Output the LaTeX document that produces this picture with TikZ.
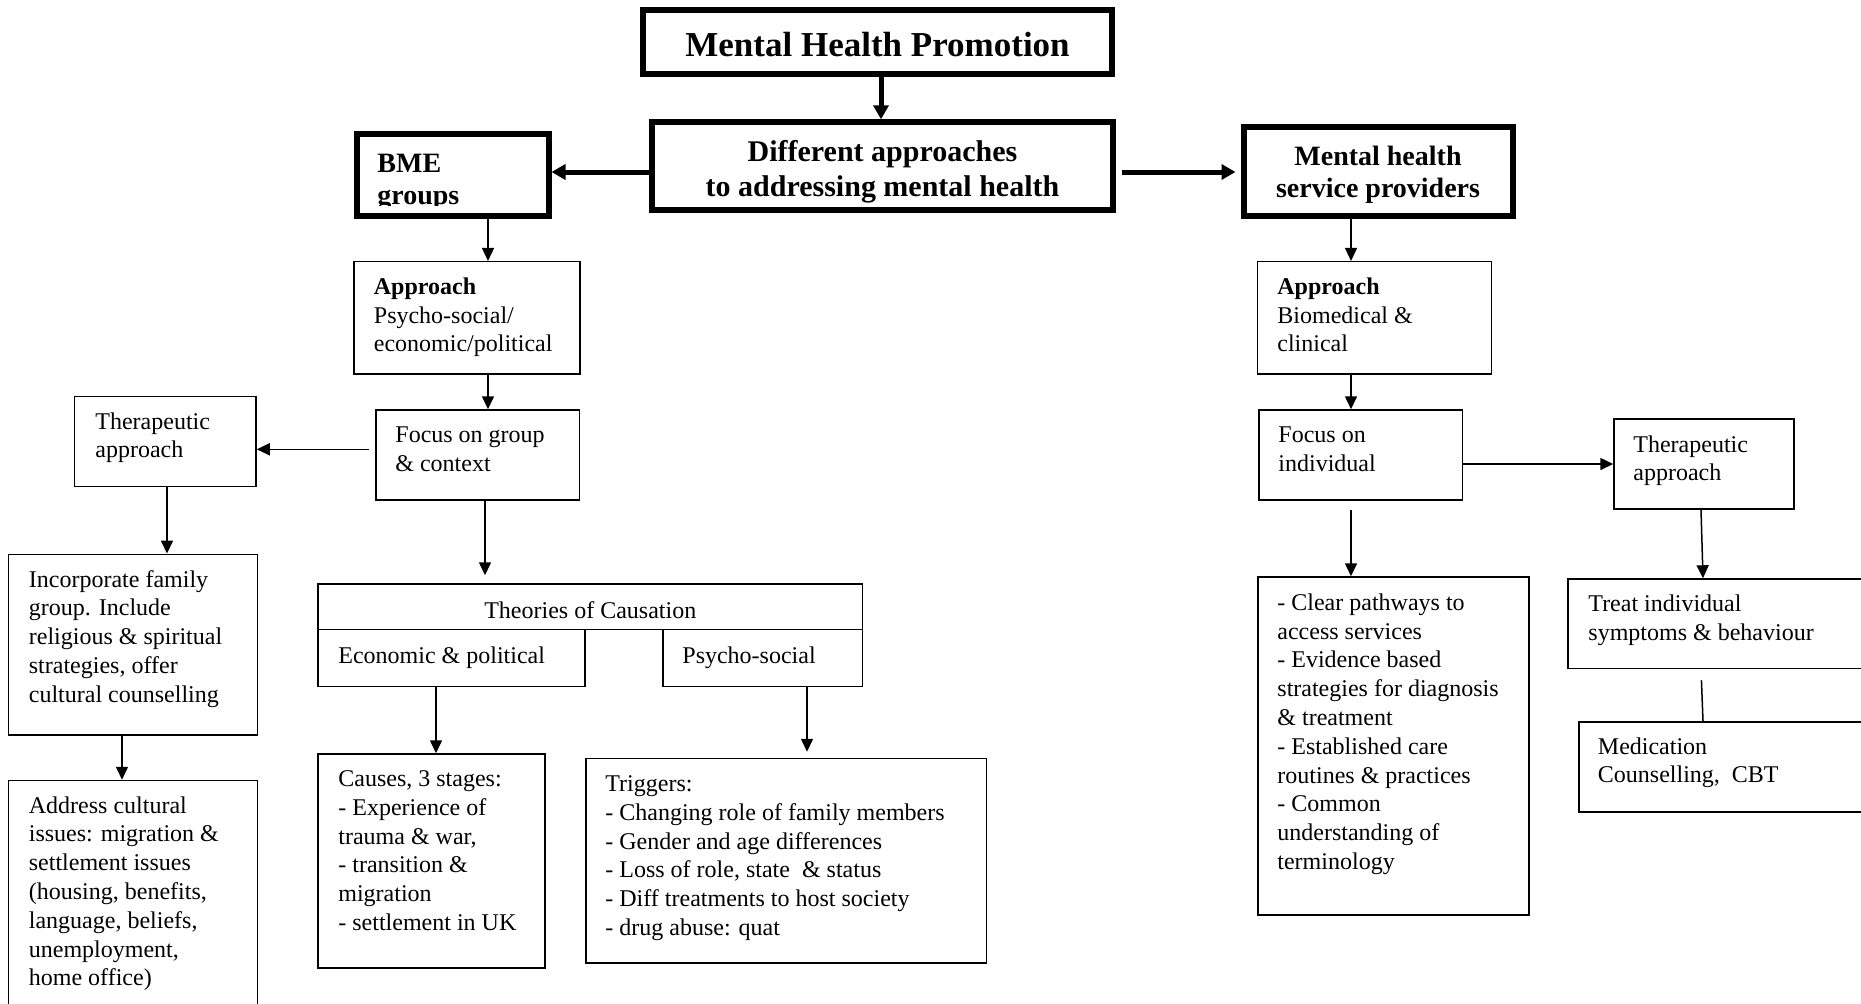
\documentclass[tikz,border=0pt]{standalone}
\usepackage{fontspec}
\setmainfont{Liberation Serif}
\usetikzlibrary{arrows.meta,fit}
\tikzset{
  thin box/.style={draw, line width=0.75pt, inner sep=0pt, fit={#1}},
  thick box/.style={draw, line width=3pt, inner sep=0pt, fit={#1}},
  arr/.style={line width=0.75pt, -{Triangle[length=6.5pt,width=6pt]}},
  tarr/.style={line width=2.5pt, -{Triangle[length=7pt,width=7.5pt]}},
  txt/.style={inner sep=0pt, align=left, anchor=north west, font=\fontsize{12}{14.4}\selectfont},
  ctxt/.style={inner sep=0pt, align=center, anchor=north, font=\fontsize{12}{14.4}\selectfont},
}
\begin{document}
\begin{tikzpicture}[x=0.5pt, y=-0.5pt]
\useasboundingbox (0,0) rectangle (1861,1003);
\clip (0,0) rectangle (1861,1003);

% ---------- boxes ----------
\node[thick box={(643,10.3)(1112,74.3)}] (mhp) {};
\node[thick box={(652,122.3)(1113,210)}] (diff) {};
\node[thick box={(357,133.5)(548.5,215.6)}] (bme) {};
\node[thick box={(1243.5,126.5)(1513,215.8)}] (mhsp) {};

\node[thin box={(354,261.7)(580,374)}] (appL) {};
\node[thin box={(376,410)(579.3,500)}] (focG) {};
\node[thin box={(74.7,396.7)(256,486.7)}] (therL) {};
\node[thin box={(8.4,554.3)(257.5,735)}] (inc) {};
\node[thin box={(8.4,780.5)(257.5,1040)}] (addr) {};
\node[thin box={(318,584)(862.5,629.3)}] (theo) {};
\node[thin box={(318,629.3)(585,686.5)}] (econ) {};
\node[thin box={(663,629.3)(862.5,686.5)}] (psy) {};
\node[thin box={(318,754)(545,968)}] (causes) {};
\node[thin box={(586,758.5)(986.5,963)}] (trig) {};

\node[thin box={(1257.4,261.7)(1491.7,374)}] (appR) {};
\node[thin box={(1259,410)(1462.6,500)}] (focI) {};
\node[thin box={(1614,419)(1794,509)}] (therR) {};
\node[thin box={(1568,579)(1890,668.5)}] (treat) {};
\node[thin box={(1579,722)(1890,812)}] (med) {};
\node[thin box={(1258,577)(1529,915)}] (clear) {};

% ---------- texts ----------
\node[ctxt, font=\fontsize{17.5}{21}\selectfont\bfseries] (tmhp) at (877.5,27) {\strut Mental Health Promotion};
\node[ctxt, font=\fontsize{15}{17.25}\selectfont\bfseries] (tdiff) at (882.5,137.3) {\strut Different approaches\\to addressing mental health};
\begin{scope}
  \clip (362,140) rectangle (544,205);
  \node[txt, font=\fontsize{14}{16}\selectfont\bfseries] (tbme) at (377,149.6) {\strut BME\\groups};
\end{scope}
\node[ctxt, font=\fontsize{14}{16}\selectfont\bfseries] (tmhsp) at (1378,143) {\strut Mental health\\service providers};

\node[txt] (tappL) at (373.5,273.8) {\strut\textbf{Approach}\\Psycho-social/\\economic/political};
\node[txt] (tfocG) at (395,421.8) {\strut Focus on group\\\& context};
\node[txt] (ttherL) at (95,408.5) {\strut Therapeutic\\approach};
\node[txt] (tinc) at (28.5,566.5) {\strut Incorporate family\\group. Include\\religious \& spiritual\\strategies, offer\\cultural counselling};
\node[txt] (taddr) at (28.5,792.5) {\strut Address cultural\\issues: migration \&\\settlement issues\\(housing, benefits,\\language, beliefs,\\unemployment,\\home office)};
\node[ctxt] (ttheo) at (590.3,597.5) {\strut Theories of Causation};
\node[txt] (tecon) at (338,642.5) {\strut Economic \& political};
\node[txt] (tpsy) at (682,642.5) {\strut Psycho-social};
\node[txt] (tcauses) at (338,766) {\strut Causes, 3 stages:\\- Experience of\\trauma \& war,\\- transition \&\\migration\\- settlement in UK};
\node[txt] (ttrig) at (605,771) {\strut Triggers:\\- Changing role of family members\\- Gender and age differences\\- Loss of role, state \ \& status\\- Diff treatments to host society\\- drug abuse: quat};

\node[txt] (tappR) at (1277,273.8) {\strut\textbf{Approach}\\Biomedical \&\\clinical};
\node[txt] (tfocI) at (1278,421.8) {\strut Focus on\\individual};
\node[txt] (ttherR) at (1633,431.5) {\strut Therapeutic\\approach};
\node[txt] (tclear) at (1277,589.8) {\strut - Clear pathways to\\access services\\- Evidence based\\strategies for diagnosis\\\& treatment\\- Established care\\routines \& practices\\- Common\\understanding of\\terminology};
\node[txt] (ttreat) at (1588,590.8) {\strut Treat individual\\symptoms \& behaviour};
\node[txt] (tmed) at (1597.5,733.5) {\strut Medication\\Counselling, \ CBT};

% ---------- helper coordinates ----------
\coordinate (cM) at (881,0);
\coordinate (cH) at (0,172);
\coordinate (cL) at (488,0);
\coordinate (cG) at (485,0);
\coordinate (cE) at (436,0);
\coordinate (cP) at (807,0);
\coordinate (cT) at (167,0);
\coordinate (cI) at (122,0);
\coordinate (cR) at (1351,0);
\coordinate (cY1) at (0,449.3);
\coordinate (cY2) at (0,464);
\coordinate (k1) at (1701,0);
\coordinate (k2) at (1703,0);

% ---------- connectors ----------
\draw[tarr] (mhp.south -| cM) -- (diff.north -| cM);
\draw[tarr] (diff.west |- cH) -- (bme.east |- cH);
\draw[tarr, shorten <=3pt, shorten >=2.5pt] (diff.east |- cH) -- (mhsp.west |- cH);

\draw[arr] (bme.south -| cL) -- (appL.north -| cL);
\draw[arr] (appL.south -| cL) -- (focG.north -| cL);
\draw[arr, shorten <=3pt] (focG.west |- cY1) -- (therL.east |- cY1);
\draw[arr] (therL.south -| cT) -- (inc.north -| cT);
\draw[arr] (inc.south -| cI) -- (addr.north -| cI);
\draw[arr, shorten >=4pt] (focG.south -| cG) -- (theo.north -| cG);
\draw[arr] (econ.south -| cE) -- (causes.north -| cE);
\draw[arr, shorten >=3pt] (psy.south -| cP) -- (trig.north -| cP);

\draw[arr] (mhsp.south -| cR) -- (appR.north -| cR);
\draw[arr] (appR.south -| cR) -- (focI.north -| cR);
\draw[arr] (focI.east |- cY2) -- (therR.west |- cY2);
\draw[arr] (therR.south -| k1) -- (treat.north -| k2);
\draw[line width=0.75pt, shorten <=5.5pt] (treat.south -| k1) -- (med.north -| k2);
\draw[arr, shorten <=4.5pt] (focI.south -| cR) -- (clear.north -| cR);
\end{tikzpicture}
\end{document}
